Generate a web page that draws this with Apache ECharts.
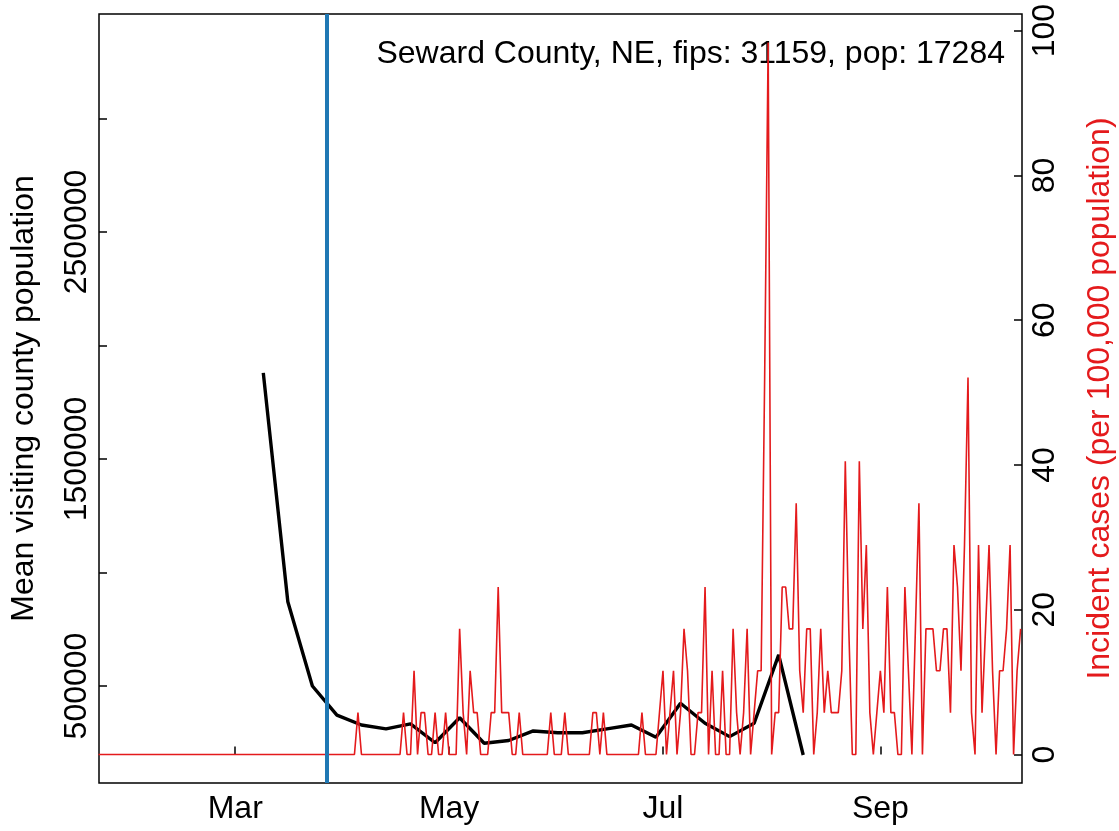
<!DOCTYPE html>
<html>
<head>
<meta charset="utf-8">
<script src="https://cdn.jsdelivr.net/npm/echarts@6/dist/echarts.min.js"></script>
<style>
html, body { margin: 0; padding: 0; background: #fff; }
#chart { width: 1119px; height: 831px; }
</style>
</head>
<body>
<div id="chart"></div>
<script>
// daily incident cases per 100,000, starting 2020-01-22
var caseStart = '2020-01-22';
var incidence = [
  0,0,0,0,0,0,0,0,0,0, 0,0,0,0,0,0,0,0,0,0,
  0,0,0,0,0,0,0,0,0,0, 0,0,0,0,0,0,0,0,0,0,
  0,0,0,0,0,0,0,0,0,0, 0,0,0,0,0,0,0,0,0,0,
  0,0,0,0,0,0,0,0,0,0, 0,0,0,0,5.79,0,0,0,0,0,
  0,0,0,0,0,0,0,5.79,0,0, 11.57,0,5.79,5.79,0,0,5.79,0,0,5.79,
  0,0,0,17.36,5.79,0,11.57,5.79,5.79,0, 0,0,5.79,5.79,23.14,5.79,5.79,5.79,0,0,
  5.79,0,0,0,0,0,0,0,0,5.79, 0,0,0,5.79,0,0,0,0,0,0,
  0,5.79,5.79,0,5.79,0,0,0,0,0, 0,0,0,0,0,5.79,0,0,0,0,
  5.79,11.57,0,5.79,11.57,0,5.79,17.36,11.57,0, 0,5.79,5.79,23.14,0,11.57,0,0,11.57,0,
  0,17.36,5.79,0,5.79,17.36,0,5.79,11.57,11.57, 52.07,98.36,0,5.79,5.79,23.14,23.14,17.36,17.36,34.71,
  11.57,5.79,17.36,17.36,0,5.79,17.36,5.79,11.57,5.79, 5.79,5.79,11.57,40.50,17.36,0,0,40.50,17.36,28.93,
  5.79,0,5.79,11.57,5.79,23.14,5.79,5.79,0,0, 23.14,11.57,0,17.36,34.71,0,17.36,17.36,17.36,11.57,
  11.57,17.36,17.36,5.79,28.93,23.14,11.57,28.93,52.07,5.79, 0,28.93,5.79,17.36,28.93,11.57,0,11.57,11.57,17.36,
  28.93,0,11.57,17.36
];

// weekly mean visiting county population
var visitDates = ['2020-03-09','2020-03-16','2020-03-23','2020-03-30','2020-04-06','2020-04-13',
  '2020-04-20','2020-04-27','2020-05-04','2020-05-11','2020-05-18','2020-05-25','2020-06-01',
  '2020-06-08','2020-06-15','2020-06-22','2020-06-29','2020-07-06','2020-07-13','2020-07-20',
  '2020-07-27','2020-08-03','2020-08-10'];
var visitors = [1879000, 871000, 500000, 372000, 328000, 311000,
  333000, 250000, 360000, 248000, 260000, 302000, 294000,
  294000, 311000, 328000, 274000, 424000, 336000, 277000,
  336000, 637000, 196000];

var orderDate = '2020-03-27';
var titleText = 'Seward County, NE, fips: 31159, pop: 17284';

var monthTicks = ['2020-03-01', '2020-05-01', '2020-07-01', '2020-09-01'];
var monthLabels = ['Mar', 'May', 'Jul', 'Sep'];
var leftTicks = [500000, 1000000, 1500000, 2000000, 2500000, 3000000];
var leftLabels = [500000, 1500000, 2500000];
var rightTicks = [0, 20, 40, 60, 80, 100];

var DAY = 86400000;
var font = '"Liberation Sans", Arial, sans-serif';
var fs = 32;

var t0 = Date.parse(caseStart);
var caseData = incidence.map(function (v, i) { return [t0 + i * DAY, v]; });
var visitData = visitDates.map(function (d, i) { return [Date.parse(d), visitors[i]]; });
var monthMs = monthTicks.map(function (d) { return Date.parse(d); });

var myChart = echarts.init(document.getElementById('chart'));

var option = {
  animation: false,
  backgroundColor: '#fff',
  grid: {
    left: 99, right: 97, top: 14, bottom: 48,
    outerBoundsMode: 'none',
    show: true, borderColor: '#000', borderWidth: 1.5
  },
  graphic: [{
    type: 'text',
    x: 1005, y: 54,
    style: {
      text: titleText,
      fontSize: fs, fontFamily: font, fill: '#000',
      align: 'right', verticalAlign: 'middle'
    }
  }],
  xAxis: {
    type: 'value',
    min: t0 + 0.14 * DAY,
    max: t0 + 263.4 * DAY,
    axisLine: { show: false },
    splitLine: { show: false },
    axisTick: { inside: true, length: 8, customValues: monthMs, lineStyle: { color: '#000', width: 1.5 } },
    axisLabel: {
      customValues: monthMs,
      margin: 10,
      fontSize: fs, fontFamily: font, color: '#000',
      formatter: function (v) {
        var k = monthMs.indexOf(v);
        return k >= 0 ? monthLabels[k] : '';
      }
    }
  },
  yAxis: [{
    type: 'value',
    position: 'left',
    min: 72700, max: 3460000,
    name: 'Mean visiting county population',
    nameLocation: 'middle', nameRotate: 90, nameGap: 59,
    nameTextStyle: { fontSize: fs, fontFamily: font, color: '#000' },
    axisLine: { show: false },
    splitLine: { show: false },
    axisTick: { inside: true, length: 8, customValues: leftTicks, lineStyle: { color: '#000', width: 1.5 } },
    axisLabel: {
      customValues: leftLabels, rotate: 90, margin: 6,
      fontSize: fs, fontFamily: font, color: '#000',
      formatter: function (v) { return String(v); }
    }
  }, {
    type: 'value',
    position: 'right',
    min: -3.934, max: 102.3,
    name: 'Incident cases (per 100,000 population)',
    nameLocation: 'middle', nameRotate: 90, nameGap: 62,
    nameTextStyle: { fontSize: fs, fontFamily: font, color: '#E41A1C' },
    axisLine: { show: false },
    splitLine: { show: false },
    axisTick: { inside: true, length: 8, customValues: rightTicks, lineStyle: { color: '#000', width: 1.5 } },
    axisLabel: { customValues: rightTicks, rotate: 90, margin: 7, fontSize: fs, fontFamily: font, color: '#000' }
  }],
  series: [{
    name: 'visitors',
    type: 'line',
    yAxisIndex: 0,
    data: visitData,
    showSymbol: false,
    lineStyle: { color: '#000', width: 3.4 },
    z: 2
  }, {
    name: 'cases',
    type: 'line',
    yAxisIndex: 1,
    data: caseData,
    showSymbol: false,
    lineStyle: { color: '#E41A1C', width: 1.6 },
    z: 3
  }, {
    name: 'order',
    type: 'line',
    yAxisIndex: 1,
    data: [],
    z: 4,
    markLine: {
      silent: true,
      symbol: ['none', 'none'],
      label: { show: false },
      lineStyle: { color: '#1F78B4', width: 4, type: 'solid' },
      data: [{ xAxis: Date.parse(orderDate) }]
    }
  }]
};

myChart.setOption(option);
</script>
</body>
</html>
